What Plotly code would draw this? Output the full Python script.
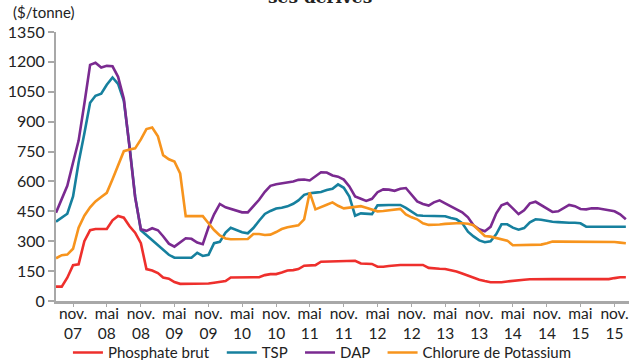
import pandas as pd
import plotly.graph_objects as go

# Monthly prices, August 2007 - January 2016 ($/tonne)
months = pd.date_range("2007-08-01", periods=102, freq="MS")

phosphate_brut = [
    72, 72, 117, 180, 184, 300, 355, 361, 361, 361, 405, 427, 418, 375, 343, 290, 160, 153, 140, 118,
    112, 95, 86, 86, 86, 86, 86, 88, 92, 96, 100, 118, 119, 119, 119, 119, 119, 130, 135, 135,
    143, 153, 155, 160, 177, 177, 180, 197, 198, 199, 200, 201, 202, 202, 188, 186, 186, 172, 172, 176,
    179, 181, 181, 181, 181, 181, 166, 163, 162, 161, 156, 148, 138, 127, 117, 107, 100, 94, 94, 94,
    98, 102, 105, 107, 109, 110, 110, 110, 110, 110, 110, 110, 110, 110, 110, 110, 110, 110, 110, 115,
    119, 119,
]

tsp = [
    398, 418, 438, 525, 695, 840, 995, 1030, 1040, 1085, 1122, 1090, 1005, 775, 525, 355, 330, 305, 282, 258,
    232, 217, 217, 217, 217, 242, 226, 232, 290, 297, 343, 367, 357, 345, 340, 366, 403, 437, 452, 464,
    468, 475, 488, 505, 533, 541, 544, 547, 557, 563, 585, 568, 524, 428, 440, 438, 436, 480, 482, 482,
    482, 482, 467, 449, 430, 428, 428, 428, 428, 425, 416, 410, 391, 348, 324, 304, 295, 300, 336, 385,
    385, 368, 358, 366, 395, 410, 408, 402, 398, 396, 393, 393, 393, 390, 373, 373, 373, 373, 373, 373,
    373, 373,
]

dap = [
    443, 510, 578, 695, 805, 990, 1185, 1196, 1172, 1180, 1178, 1125, 1015, 770, 520, 360, 352, 365, 355, 325,
    288, 273, 295, 315, 312, 293, 285, 370, 435, 487, 470, 462, 455, 445, 445, 475, 508, 548, 578, 586,
    590, 595, 600, 608, 610, 605, 628, 646, 645, 630, 624, 609, 575, 525, 513, 502, 513, 546, 560, 559,
    553, 563, 567, 535, 500, 487, 479, 495, 505, 490, 475, 463, 445, 420, 380, 360, 350, 372, 440, 480,
    492, 465, 436, 455, 490, 498, 480, 463, 447, 450, 468, 482, 476, 462, 460, 465, 465, 461, 455, 450,
    435, 410,
]

chlorure_potassium = [
    214, 230, 233, 262, 368, 428, 470, 500, 522, 543, 611, 683, 752, 760, 766, 811, 863, 871, 826, 732,
    711, 700, 640, 426, 426, 426, 426, 390, 356, 329, 314, 310, 310, 310, 311, 336, 336, 331, 333, 346,
    361, 370, 376, 380, 410, 545, 460, 470, 483, 495, 478, 465, 468, 474, 476, 468, 458, 450, 452, 455,
    460, 462, 435, 420, 410, 390, 382, 382, 384, 387, 390, 390, 390, 388, 380, 355, 326, 323, 316, 308,
    303, 280, 281, 281, 281, 281, 283, 290, 298, 298, 298, 298, 298, 298, 298, 298, 298, 298, 298, 296,
    293, 290,
]

series = [
    ("Phosphate brut", phosphate_brut, "#ee2f2c"),
    ("TSP", tsp, "#16809e"),
    ("DAP", dap, "#7a2a90"),
    ("Chlorure de Potassium", chlorure_potassium, "#f7941d"),
]

tick_dates = ["2007-11-01", "2008-05-01", "2008-11-01", "2009-05-01", "2009-11-01", "2010-05-01",
              "2010-11-01", "2011-05-01", "2011-11-01", "2012-05-01", "2012-11-01", "2013-05-01",
              "2013-11-01", "2014-05-01", "2014-11-01", "2015-05-01", "2015-11-01"]
tick_labels = ["nov.<br>07", "mai<br>08", "nov.<br>08", "mai<br>09", "nov.<br>09", "mai<br>10",
               "nov.<br>10", "mai<br>11", "nov.<br>11", "mai<br>12", "nov.<br>12", "mai<br>13",
               "nov.<br>13", "mai<br>14", "nov.<br>14", "mai<br>15", "nov.<br>15"]
y_ticks = [0, 150, 300, 450, 600, 750, 900, 1050, 1200, 1350]

# non-breaking spaces widen each legend entry a little
legend_pad = "\u00a0\u00a0"

fig = go.Figure()
for name, values, color in series:
    fig.add_trace(go.Scatter(
        x=months, y=values, mode="lines", name=name + legend_pad,
        line=dict(color=color, width=2.6),
    ))

axis_grey = "#a8a8a8"
font_family = "Lato, 'Noto Sans', sans-serif"

fig.update_layout(
    width=629, height=360,
    margin=dict(l=56, r=0, t=32, b=59, autoexpand=False),
    paper_bgcolor="white", plot_bgcolor="white",
    font=dict(family=font_family, size=15, color="#222222"),
    showlegend=True,
    legend=dict(
        orientation="h", xref="container", yref="container",
        x=0.108, xanchor="left", y=0.02, yanchor="middle",
        font=dict(size=15, color="#222222"), itemwidth=30,
        tracegroupgap=0, bgcolor="rgba(0,0,0,0)",
    ),
    xaxis=dict(
        range=["2007-08-01", "2016-01-18"], automargin=False,
        tickmode="array", tickvals=tick_dates, ticktext=tick_labels,
        ticklabeloverflow="allow", ticklabelstandoff=-7,
        showgrid=False, zeroline=False,
        showline=True, linecolor=axis_grey, linewidth=3,
        ticks="outside", ticklen=3, tickcolor=axis_grey, tickwidth=1,
        tickfont=dict(size=15.5, color="#222222"),
    ),
    yaxis=dict(
        range=[0, 1350], tickmode="array", tickvals=y_ticks, automargin=False,
        showgrid=False, zeroline=False,
        showline=True, linecolor=axis_grey, linewidth=2,
        ticks="outside", ticklen=6, tickcolor=axis_grey, tickwidth=1.5,
        tickfont=dict(size=16, color="#222222"),
    ),
    annotations=[
        dict(text="($/tonne)", xref="paper", yref="paper", x=-0.078, y=1.074,
             xanchor="left", yanchor="middle", showarrow=False,
             font=dict(size=15, color="#222222")),
        dict(text="<b>ses dérivés</b>", xref="paper", yref="paper", x=0.46, y=1.13,
             xanchor="center", yanchor="middle", showarrow=False,
             font=dict(family="'DejaVu Serif', serif", size=17, color="#222222")),
    ],
)

fig.write_html("out.html")
